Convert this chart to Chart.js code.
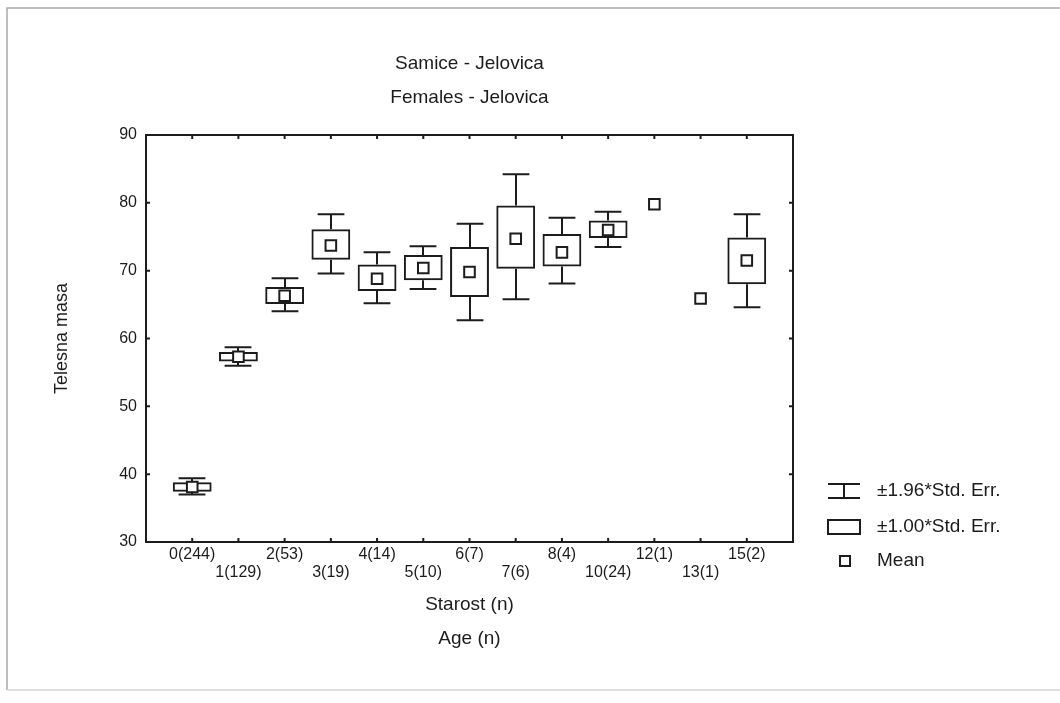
<!DOCTYPE html>
<html>
<head>
<meta charset="utf-8">
<script src="https://cdn.jsdelivr.net/npm/chart.js@4.4.1/dist/chart.umd.min.js"></script>
<style>
  html, body { margin: 0; padding: 0; background: #fff; }
</style>
</head>
<body>
<canvas id="chart" width="1060" height="703"></canvas>
<script>
// age classes with sample size, in plotting order
const ages = ['0(244)', '1(129)', '2(53)', '3(19)', '4(14)', '5(10)', '6(7)',
              '7(6)', '8(4)', '10(24)', '12(1)', '13(1)', '15(2)'];

// body mass (Telesna masa)
const means  = [38.1, 57.3, 66.3, 73.7, 68.8, 70.4, 69.8, 74.7, 72.7, 76.0, 79.8, 65.9, 71.5];
const seLow  = [37.4, 56.6, 65.1, 71.6, 67.0, 68.6, 66.1, 70.3, 70.6, 74.8, null, null, 68.0];
const seHigh = [38.8, 58.0, 67.6, 76.1, 70.9, 72.3, 73.5, 79.6, 75.4, 77.4, null, null, 74.9];
const ciLow  = [37.0, 56.0, 64.0, 69.6, 65.2, 67.3, 62.7, 65.8, 68.1, 73.5, null, null, 64.6];
const ciHigh = [39.4, 58.7, 68.9, 78.3, 72.7, 73.6, 76.9, 84.2, 77.8, 78.7, null, null, 78.3];

const yTicks = [30, 40, 50, 60, 70, 80, 90];

const legendLabels = ['\u00b11.96*Std. Err.', '\u00b11.00*Std. Err.', 'Mean'];

const INK = '#1c1c1c';
const FONT = "'Liberation Sans', Arial, sans-serif";

// whiskers (+-1.96 SE) drawn from the scales
const whiskers = {
  id: 'whiskers',
  afterDatasetsDraw(chart) {
    const { ctx, scales: { x, y } } = chart;
    const step = x.getPixelForValue(2) - x.getPixelForValue(1);
    const half = step * 0.29;
    ctx.save();
    ctx.strokeStyle = INK;
    ctx.lineWidth = 2;
    ciLow.forEach((lo, i) => {
      if (lo == null) return;
      const px = Math.round(x.getPixelForValue(i + 1));
      const yHi = y.getPixelForValue(ciHigh[i]);
      const yLo = y.getPixelForValue(lo);
      ctx.beginPath();
      ctx.moveTo(px, yHi); ctx.lineTo(px, y.getPixelForValue(seHigh[i]));
      ctx.moveTo(px, y.getPixelForValue(seLow[i])); ctx.lineTo(px, yLo);
      ctx.moveTo(px - half, yHi); ctx.lineTo(px + half, yHi);
      ctx.moveTo(px - half, yLo); ctx.lineTo(px + half, yLo);
      ctx.stroke();
    });
    ctx.restore();
  }
};

// plot frame with inner tick marks on all four sides, plus page border
const frame = {
  id: 'frame',
  afterDraw(chart) {
    const { ctx, chartArea: a, scales: { x, y } } = chart;
    ctx.save();
    ctx.strokeStyle = '#a8a8a8';
    ctx.lineWidth = 1.5;
    ctx.beginPath();
    ctx.moveTo(1060, 8); ctx.lineTo(7, 8); ctx.lineTo(7, 690);
    ctx.stroke();
    ctx.strokeStyle = '#d4d4d4';
    ctx.beginPath();
    ctx.moveTo(7, 690); ctx.lineTo(1060, 690);
    ctx.stroke();

    ctx.strokeStyle = INK;
    ctx.lineWidth = 2;
    ctx.strokeRect(a.left, a.top, a.right - a.left, a.bottom - a.top);
    ctx.beginPath();
    yTicks.forEach(v => {
      const py = y.getPixelForValue(v);
      ctx.moveTo(a.left, py); ctx.lineTo(a.left + 4, py);
      ctx.moveTo(a.right, py); ctx.lineTo(a.right - 4, py);
    });
    ages.forEach((_, i) => {
      const px = x.getPixelForValue(i + 1);
      ctx.moveTo(px, a.bottom); ctx.lineTo(px, a.bottom - 4);
      ctx.moveTo(px, a.top); ctx.lineTo(px, a.top + 4);
    });
    ctx.stroke();
    ctx.restore();
  }
};

// legend on the right, like the original Statistica one
const sideLegend = {
  id: 'sideLegend',
  afterDraw(chart) {
    const { ctx } = chart;
    const x0 = 828, x1 = 860, tx = 877;
    const rows = [491, 527, 561];
    ctx.save();
    ctx.strokeStyle = INK;
    ctx.lineWidth = 2;
    ctx.beginPath();
    ctx.moveTo(x0, rows[0] - 7); ctx.lineTo(x1, rows[0] - 7);
    ctx.moveTo(x0, rows[0] + 7); ctx.lineTo(x1, rows[0] + 7);
    ctx.moveTo((x0 + x1) / 2, rows[0] - 7); ctx.lineTo((x0 + x1) / 2, rows[0] + 7);
    ctx.stroke();
    ctx.strokeRect(x0, rows[1] - 7, x1 - x0, 14);
    ctx.strokeRect(845 - 5, rows[2] - 5, 10, 10);
    ctx.fillStyle = INK;
    ctx.font = '19px ' + FONT;
    ctx.textBaseline = 'middle';
    legendLabels.forEach((t, i) => ctx.fillText(t, tx, rows[i]));
    ctx.restore();
  }
};

new Chart(document.getElementById('chart'), {
  type: 'bar',
  data: {
    datasets: [
      {
        type: 'bar',
        label: legendLabels[1],
        data: ages.map((_, i) => ({ x: i + 1, y: [seLow[i], seHigh[i]] })).filter(d => d.y[0] != null),
        backgroundColor: 'rgba(255,255,255,0)',
        borderColor: INK,
        borderWidth: 2,
        borderSkipped: false,
        categoryPercentage: 1,
        barPercentage: 0.84,
        order: 2
      },
      {
        type: 'scatter',
        label: legendLabels[2],
        data: means.map((m, i) => ({ x: i + 1, y: m })),
        pointStyle: 'rect',
        pointRadius: 7.5,
        pointBorderWidth: 2,
        pointBorderColor: INK,
        pointBackgroundColor: '#fff',
        showLine: false,
        order: 1
      }
    ]
  },
  options: {
    responsive: false,
    animation: false,
    devicePixelRatio: 1,
    layout: { padding: { left: 48, right: 267, top: 47, bottom: 47 } },
    plugins: {
      legend: { display: false },
      tooltip: { enabled: false },
      title: {
        display: true,
        fullSize: false,
        text: ['Samice - Jelovica', 'Females - Jelovica'],
        color: INK,
        font: { family: FONT, size: 19, weight: 'normal', lineHeight: '34px' },
        padding: { top: 0, bottom: 20 }
      }
    },
    scales: {
      x: {
        type: 'linear',
        offset: false,
        min: 0,
        max: 14,
        afterFit: s => { s.height = 114; },
        afterBuildTicks: s => { s.ticks = ages.map((_, i) => ({ value: i + 1 })); },
        border: { display: false },
        grid: { display: false, drawTicks: false, offset: false },
        ticks: {
          autoSkip: false,
          maxRotation: 0,
          padding: 4,
          color: INK,
          font: { family: FONT, size: 16, lineHeight: '18px' },
          callback: v => {
            const lab = ages[v - 1];
            if (!lab) return '';
            return (v - 1) % 2 ? ['', lab] : lab;
          }
        },
        title: {
          display: true,
          text: ['Starost (n)', 'Age (n)'],
          color: INK,
          font: { family: FONT, size: 19, lineHeight: '34px' },
          padding: { top: 0, bottom: 0 }
        }
      },
      y: {
        min: 30,
        max: 90,
        afterFit: s => { s.width = 98; },
        afterBuildTicks: s => { s.ticks = yTicks.map(v => ({ value: v })); },
        border: { display: false },
        grid: { display: false, drawTicks: false },
        ticks: {
          padding: 9,
          color: INK,
          font: { family: FONT, size: 16 }
        },
        title: {
          display: true,
          text: 'Telesna masa',
          color: INK,
          font: { family: FONT, size: 18 },
          padding: { top: 3, bottom: 3 }
        }
      }
    }
  },
  plugins: [whiskers, frame, sideLegend]
});
</script>
</body>
</html>
